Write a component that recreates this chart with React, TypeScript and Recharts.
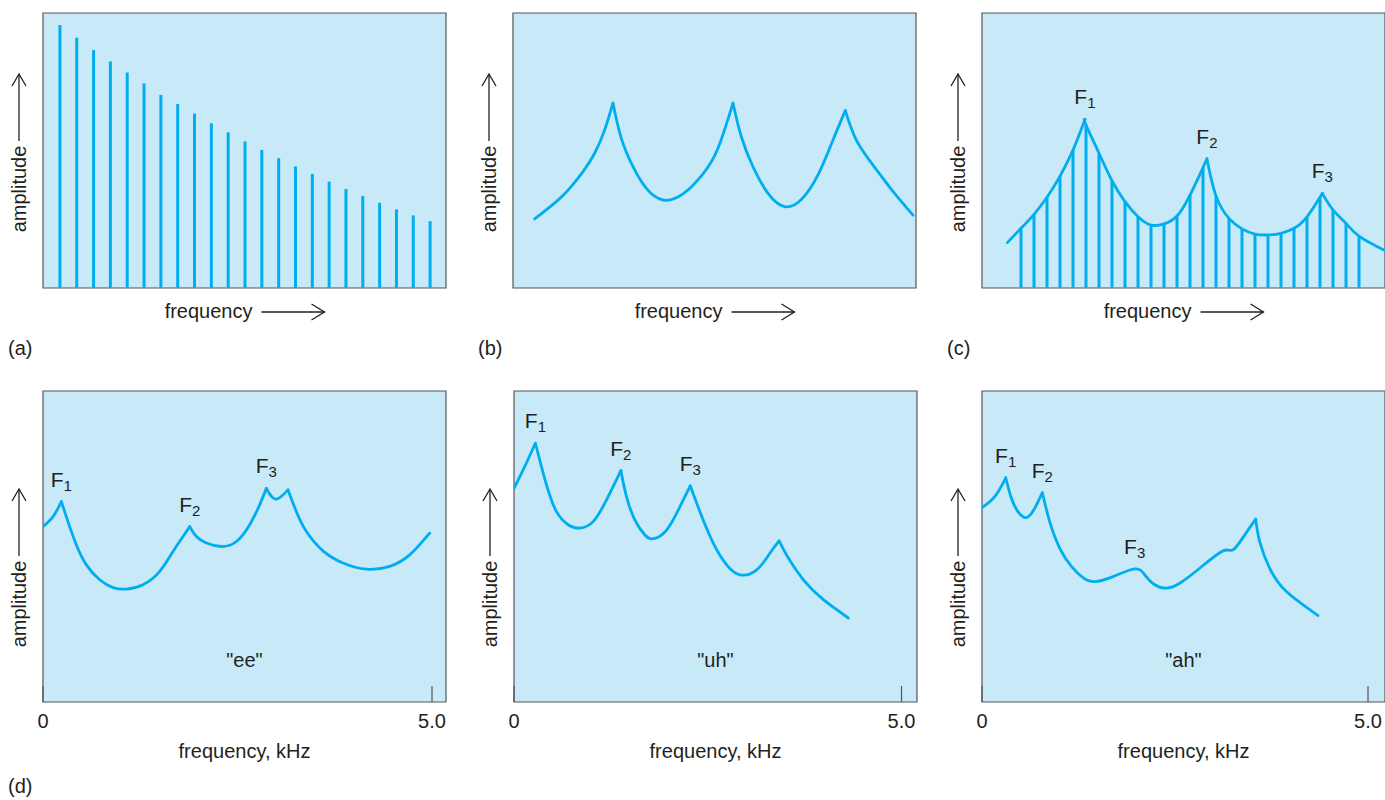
import {
  ComposedChart,
  Bar,
  Line,
  XAxis,
  YAxis,
  CartesianGrid,
  ReferenceArea,
  ReferenceDot,
} from "recharts";

const SKY = "#c7e9f8";
const CYAN = "#00aeef";
const INK = "#231f20";
const FRAME = "#555555";
const FONT = "'Liberation Sans', Arial, sans-serif";

// (a) source spectrum: harmonic number -> amplitude (0..100)
const aHarmonic = [1, 2, 3, 4, 5, 6, 7, 8, 9, 10, 11, 12, 13, 14, 15, 16, 17, 18, 19, 20, 21, 22, 23];
const aAmplitude = [
  95.6, 91.0, 86.5, 82.4, 78.4, 74.4, 70.2, 66.9, 63.4, 59.9, 56.6, 53.3,
  50.2, 47.2, 44.2, 41.5, 38.7, 36.0, 33.5, 31.0, 28.6, 26.4, 24.3,
];

// (b) vocal tract response, arbitrary frequency units (0..100)
const bFreq = [
  5.38, 10.75, 14.06, 17.37, 20.26, 22.75, 24.81, 26.88, 29.78, 33.09, 37.22, 42.18, 47.15, 50.87,
  54.59, 56.66, 59.55, 63.28, 67.41, 71.55, 75.68, 79.4, 82.46, 85.19, 89.33, 93.88, 99.26,
];
const bAmp = [
  25.1, 31.4, 36.2, 42.3, 49.0, 57.5, 67.2, 54.4, 44.1, 36.2, 32.0, 34.2, 41.5, 50.8,
  67.2, 55.0, 44.1, 34.4, 29.6, 32.2, 41.1, 53.8, 64.5, 53.8, 44.7, 35.9, 26.5,
];
const bPeaks = [6, 14, 22];

// (c) harmonics shaped by the tract, harmonic number units
const cHarmonic = [3, 4, 5, 6, 7, 8, 9, 10, 11, 12, 13, 14, 15, 16, 17, 18, 19, 20, 21, 22, 23, 24, 25, 26, 27, 28, 29];
const cBar = [
  21.7, 26.8, 33.0, 40.7, 50.2, 59.3, 49.0, 39.0, 31.4, 25.9, 22.9, 23.3, 26.2, 33.8,
  43.8, 33.5, 25.3, 21.5, 19.6, 19.3, 19.9, 21.7, 25.9, 33.0, 28.4, 23.5, 18.9,
];
const cFreq = [
  1.95, 3, 4, 5, 6, 7, 7.92, 8, 9, 10, 11, 12, 13, 14, 15, 16, 17, 17.3, 18, 19, 20, 21, 22,
  23, 24, 25, 26, 26.18, 27, 28, 29, 31,
];
const cAmp = [
  16.5, 21.7, 26.8, 33.0, 40.7, 50.2, 61.3, 59.3, 49.0, 39.0, 31.4, 25.9, 22.9, 23.3, 26.2,
  33.8, 43.8, 47.0, 33.5, 25.3, 21.5, 19.6, 19.3, 19.9, 21.7, 25.9, 33.0, 34.4, 28.4, 23.5,
  18.9, 13.6,
];
const cPeaks = [6, 17, 27];

// (d) vowel spectra, frequency in kHz
const eeFreq = [
  0, 0.129, 0.236, 0.321, 0.429, 0.558, 0.729, 0.9, 1.072, 1.285, 1.5, 1.671, 1.8, 1.886,
  1.972, 2.1, 2.293, 2.486, 2.657, 2.785, 2.871, 2.991, 3.149, 3.257, 3.386, 3.599, 3.856,
  4.157, 4.456, 4.713, 4.97,
];
const eeAmp = [
  56.4, 59.6, 64.4, 58.0, 50.5, 44.1, 39.3, 36.8, 36.3, 37.7, 42.0, 48.4, 53.2, 56.4, 53.2,
  51.1, 50.0, 51.6, 57.0, 63.4, 68.7, 65.2, 68.2, 61.2, 54.8, 48.6, 44.7, 42.7, 43.6, 47.3,
  54.3,
];
const eePeaks = [2, 13, 20, 22];
const eeFormants = [2, 13, 20];

const uhFreq = [
  0, 0.138, 0.276, 0.354, 0.439, 0.548, 0.698, 0.849, 1.021, 1.194, 1.379, 1.452, 1.559,
  1.689, 1.796, 1.969, 2.141, 2.274, 2.399, 2.571, 2.744, 2.916, 3.132, 3.304, 3.42, 3.54,
  3.734, 3.992, 4.315,
];
const uhAmp = [
  68.7, 75.7, 83.2, 75.7, 68.2, 61.2, 57.0, 55.9, 58.0, 65.0, 74.4, 66.0, 58.6, 53.7, 52.5,
  55.3, 62.8, 69.5, 61.2, 51.1, 44.1, 40.9, 42.5, 47.9, 51.8, 46.3, 39.3, 32.9, 27.0,
];
const uhPeaks = [2, 10, 17, 24];
const uhFormants = [2, 10, 17];

const ahFreq = [
  0, 0.165, 0.307, 0.381, 0.466, 0.575, 0.683, 0.782, 0.877, 1.006, 1.158, 1.308, 1.46,
  1.697, 1.978, 2.108, 2.237, 2.389, 2.561, 2.82, 3.122, 3.251, 3.403, 3.545, 3.597, 3.727,
  3.943, 4.352,
];
const ahAmp = [
  62.5, 66.0, 72.1, 65.5, 61.2, 59.3, 62.3, 67.3, 58.0, 49.5, 43.6, 40.0, 38.7, 40.3, 42.8,
  40.9, 37.7, 36.6, 38.2, 43.0, 48.6, 48.9, 53.7, 58.8, 51.6, 43.0, 35.5, 27.8,
];
const ahPeaks = [2, 7, 23];
const ahFormants = [2, 7, 14];

type Pt = { f: number; a: number };

function toPoints(freq: number[], amp: number[]): Pt[] {
  return freq.map((f, i) => ({ f, a: amp[i] }));
}

// split a curve at its cusps so each piece is smoothed on its own
function splitAtPeaks(pts: Pt[], peaks: number[]): Pt[][] {
  const cuts = [0, ...peaks, pts.length - 1];
  const segs: Pt[][] = [];
  for (let i = 0; i < cuts.length - 1; i++) {
    if (cuts[i + 1] > cuts[i]) segs.push(pts.slice(cuts[i], cuts[i + 1] + 1));
  }
  return segs;
}

function AmpLabel({ viewBox, center }: any) {
  const lx = viewBox.x + 19;
  const cy = viewBox.y + center;
  const tip = cy - 115;
  return (
    <g>
      <text
        transform={`translate(${viewBox.x + 26},${cy}) rotate(-90)`}
        textAnchor="middle"
        fill={INK}
        fontSize={20}
        fontFamily={FONT}
      >
        amplitude
      </text>
      <line x1={lx} y1={cy - 48} x2={lx} y2={tip} stroke={INK} strokeWidth={1.3} />
      <polyline
        points={`${lx - 7},${tip + 12} ${lx},${tip} ${lx + 7},${tip + 12}`}
        fill="none"
        stroke={INK}
        strokeWidth={1.3}
      />
    </g>
  );
}

function FreqArrowLabel({ viewBox, letter }: any) {
  const { x, y, width } = viewBox;
  const cx = x + width / 2;
  const ay = y + 24;
  const tip = cx + 80;
  return (
    <g fontFamily={FONT} fontSize={20} fill={INK}>
      <text x={cx + 8} y={y + 30} textAnchor="end">
        frequency
      </text>
      <line x1={cx + 17} y1={ay} x2={tip} y2={ay} stroke={INK} strokeWidth={1.3} />
      <polyline
        points={`${tip - 13},${ay - 8} ${tip},${ay} ${tip - 13},${ay + 8}`}
        fill="none"
        stroke={INK}
        strokeWidth={1.3}
      />
      <text x={x - 35} y={y + 67}>
        ({letter})
      </text>
    </g>
  );
}

function KhzLabel({ viewBox, letter }: any) {
  const { x, y, width } = viewBox;
  return (
    <g fontFamily={FONT} fontSize={20} fill={INK}>
      <text x={x + width / 2} y={y + 56} textAnchor="middle">
        frequency, kHz
      </text>
      {letter && (
        <text x={x - 35} y={y + 91}>
          ({letter})
        </text>
      )}
    </g>
  );
}

function KhzTick(props: any) {
  const { x, y, payload } = props;
  const v = Number(payload.value);
  return (
    <g>
      <line x1={x} y1={y} x2={x} y2={y - 16} stroke={FRAME} strokeWidth={1.2} />
      <text x={x} y={y + 26} textAnchor="middle" fill={INK} fontSize={20} fontFamily={FONT}>
        {v === 0 ? "0" : v.toFixed(1)}
      </text>
    </g>
  );
}

function FormantLabel({ viewBox, n }: any) {
  return (
    <text
      x={viewBox.x}
      y={viewBox.y - 15}
      textAnchor="middle"
      fill={INK}
      fontSize={21}
      fontFamily={FONT}
    >
      F
      <tspan fontSize={15} dy={4}>
        {n}
      </tspan>
    </text>
  );
}

function VowelLabel({ viewBox, text }: any) {
  return (
    <text x={viewBox.x} y={viewBox.y} textAnchor="middle" fill={INK} fontSize={20} fontFamily={FONT}>
      {text}
    </text>
  );
}

interface PanelProps {
  left: number;
  row: "top" | "bottom";
  xMax: number;
  letter?: string;
  bars?: Pt[];
  segments: Pt[][];
  formants: Pt[];
  vowel?: string;
}

function Panel({ left, row, xMax, letter, bars, segments, formants, vowel }: PanelProps) {
  const isTop = row === "top";
  const height = isTop ? 370 : 422;
  return (
    <div style={{ position: "absolute", left, top: isTop ? 0 : 378 }}>
      <ComposedChart
        width={470}
        height={height}
        data={bars}
        margin={{ top: 13, right: 24, bottom: 0, left: 0 }}
      >
        <CartesianGrid fill={SKY} fillOpacity={1} horizontal={false} vertical={false} stroke="none" />
        <XAxis
          type="number"
          dataKey="f"
          domain={[0, xMax]}
          allowDataOverflow
          height={isTop ? 82 : 98}
          axisLine={false}
          tickLine={false}
          tickSize={0}
          tickMargin={0}
          interval={0}
          ticks={isTop ? [] : [0, 5]}
          tick={isTop ? false : <KhzTick />}
          label={isTop ? <FreqArrowLabel letter={letter} /> : <KhzLabel letter={letter} />}
        />
        {/* separate hidden axis so the bar width is set by harmonic spacing only */}
        <XAxis xAxisId="harm" type="number" dataKey="f" domain={[0, xMax]} allowDataOverflow hide />
        <YAxis
          type="number"
          domain={[0, 100]}
          allowDataOverflow
          width={43}
          axisLine={false}
          tickLine={false}
          tick={false}
          label={<AmpLabel center={isTop ? 176 : 213} />}
        />
        {bars && (
          <Bar xAxisId="harm" dataKey="a" fill={CYAN} barSize={3} isAnimationActive={false} />
        )}
        {segments.map((seg, i) => (
          <Line
            key={`seg-${i}`}
            data={seg}
            dataKey="a"
            type="natural"
            stroke={CYAN}
            strokeWidth={2.8}
            strokeLinecap="round"
            strokeLinejoin="round"
            dot={false}
            activeDot={false}
            isAnimationActive={false}
          />
        ))}
        <ReferenceArea
          x1={0}
          x2={xMax}
          y1={0}
          y2={100}
          fill="none"
          fillOpacity={0}
          stroke={FRAME}
          strokeWidth={1.2}
        />
        {formants.map((p, i) => (
          <ReferenceDot
            key={`fm-${i}`}
            x={p.f}
            y={p.a}
            r={0}
            fill="none"
            stroke="none"
            label={<FormantLabel n={i + 1} />}
          />
        ))}
        {vowel && (
          <ReferenceDot
            x={xMax / 2}
            y={11.3}
            r={0}
            fill="none"
            stroke="none"
            label={<VowelLabel text={vowel} />}
          />
        )}
      </ComposedChart>
    </div>
  );
}

export default function App() {
  const aBars = toPoints(aHarmonic, aAmplitude);
  const bCurve = toPoints(bFreq, bAmp);
  const cBars = toPoints(cHarmonic, cBar);
  const cCurve = toPoints(cFreq, cAmp);
  const ee = toPoints(eeFreq, eeAmp);
  const uh = toPoints(uhFreq, uhAmp);
  const ah = toPoints(ahFreq, ahAmp);

  return (
    <div
      style={{
        position: "absolute",
        left: 0,
        top: 0,
        width: 1385,
        height: 800,
        overflow: "hidden",
        background: "#ffffff",
        fontFamily: FONT,
      }}
    >
      <Panel left={0} row="top" xMax={23.95} letter="a" bars={aBars} segments={[]} formants={[]} />
      <Panel left={470} row="top" xMax={100} letter="b" segments={splitAtPeaks(bCurve, bPeaks)} formants={[]} />
      <Panel
        left={939}
        row="top"
        xMax={31}
        letter="c"
        bars={cBars}
        segments={splitAtPeaks(cCurve, cPeaks)}
        formants={cPeaks.map((i) => cCurve[i])}
      />
      <Panel
        left={0}
        row="bottom"
        xMax={5.18}
        letter="d"
        segments={splitAtPeaks(ee, eePeaks)}
        formants={eeFormants.map((i) => ee[i])}
        vowel={'"ee"'}
      />
      <Panel
        left={471}
        row="bottom"
        xMax={5.2}
        segments={splitAtPeaks(uh, uhPeaks)}
        formants={uhFormants.map((i) => uh[i])}
        vowel={'"uh"'}
      />
      <Panel
        left={939}
        row="bottom"
        xMax={5.22}
        segments={splitAtPeaks(ah, ahPeaks)}
        formants={ahFormants.map((i) => ah[i])}
        vowel={'"ah"'}
      />
    </div>
  );
}
